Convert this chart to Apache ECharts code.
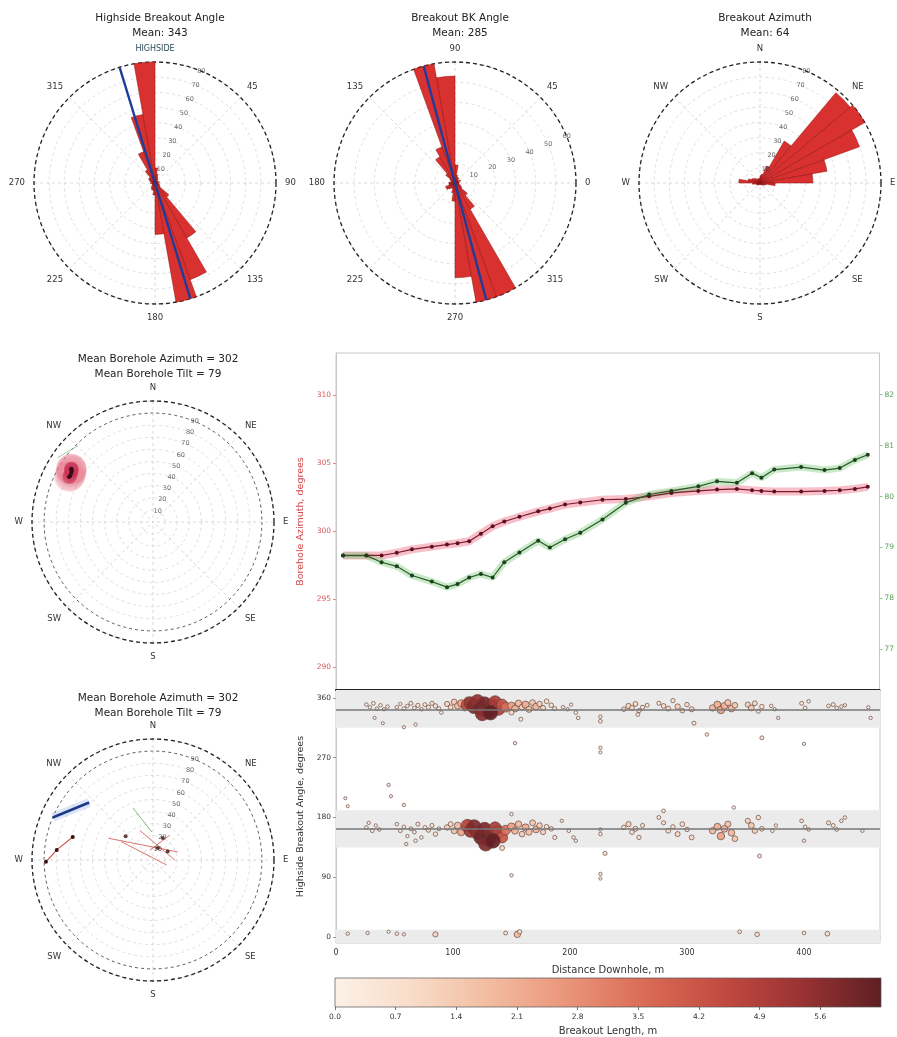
<!DOCTYPE html>
<html>
<head>
  <meta charset="UTF-8" />
  <title>Breakout analysis</title>
  <script src="https://cdn.jsdelivr.net/npm/echarts@6.0.0/dist/echarts.min.js"></script>
</head>
<body style="margin: 0; background: #fff">
  <div id="main" style="width: 897px; height: 1037px"></div>
  <script>
    // ---- rose histograms, 10 degree bins starting at 0 ----
    var binWidth = 10;
    var highsideCounts = [10, 6, 4, 3, 2, 2, 2, 3, 2, 2, 3, 3, 4, 12, 42, 68, 80, 34, 8, 5, 5, 4, 3, 2, 2, 2, 3, 2, 3, 4, 5, 5, 10, 22, 46, 80];
    var bkCounts = [2, 2, 3, 2, 2, 3, 3, 4, 9, 53, 60, 19, 15, 6, 3, 2, 2, 3, 3, 3, 5, 5, 4, 3, 3, 5, 9, 47, 60, 60, 15, 8, 4, 3, 2, 2];
    var azimuthCounts = [5, 6, 12, 32, 78, 80, 70, 45, 35, 10, 4, 3, 2, 2, 1, 1, 1, 1, 1, 1, 1, 1, 2, 2, 2, 3, 5, 14, 8, 6, 5, 4, 3, 3, 3, 3];
    var meanHighside = 343;
    var meanBk = 285;
    var highsideRings = [10, 20, 30, 40, 50, 60, 70, 80];
    var bkRings = [10, 20, 30, 40, 50, 60];
    var azimuthRings = [10, 20, 30, 40, 50, 60, 70, 80];
    var tiltRings = [10, 20, 30, 40, 50, 60, 70, 80, 90];
    var compassNames = ["N", "NE", "E", "SE", "S", "SW", "W", "NW"];

    // ---- borehole survey along hole ----
    var depthLog = [6, 26, 39, 52, 65, 82, 95, 104, 114, 124, 134, 144, 157, 173, 183, 196, 209, 228, 248, 268, 287, 310, 326, 343, 356, 364, 375, 398, 418, 431, 444, 455];
    var azLog = [298.2, 298.2, 298.2, 298.4, 298.65, 298.85, 299.0, 299.1, 299.25, 299.8, 300.35, 300.7, 301.05, 301.45, 301.65, 301.95, 302.1, 302.3, 302.35, 302.55, 302.8, 302.95, 303.05, 303.1, 303.0, 302.95, 302.9, 302.9, 302.95, 303.0, 303.1, 303.25];
    var tiltLog = [78.84, 78.84, 78.71, 78.63, 78.45, 78.33, 78.22, 78.28, 78.41, 78.48, 78.41, 78.71, 78.9, 79.13, 79.0, 79.16, 79.29, 79.55, 79.88, 80.04, 80.11, 80.2, 80.3, 80.27, 80.46, 80.37, 80.53, 80.58, 80.52, 80.56, 80.72, 80.82];
    var azTicks = [290, 295, 300, 305, 310];
    var tiltTicks = [77, 78, 79, 80, 81, 82];

    // ---- stereonet-like traces in the lower left plot [radius, azimuth] ----
    var blueTrace = [[90, 293], [71, 312]];
    var redTrace = [[88.5, 269], [80, 276], [69, 286]];
    var centreSegments = [
      [[41, 296], [21.5, 72]],
      [[26.8, 336], [18, 90]],
      [[8.5, 343], [24.8, 34]],
      [[30, 300], [12, 110]]
    ];
    var greenSegment = [[46, 339], [23, 358]];
    var centreDots = [[30, 311], [20, 24], [10.7, 22], [14, 60]];
    var upperGreenSegment = [[95, 304], [88.7, 315]];

    // ---- breakouts: [distance downhole m, highside angle deg, length m] ----
    var breakouts = [
      [26,350,0.3],[29,346,0.2],[32,352,0.4],[35,344,0.2],[38,349,0.3],[41,343,0.2],[44,347,0.3],[40,322,0.1],[33,330,0.1],
      [52,346,0.3],[55,351,0.2],[58,344,0.4],[61,348,0.3],[64,352,0.5],[67,345,0.4],[70,349,0.6],[73,343,0.3],[76,350,0.5],[79,346,0.7],[82,352,0.6],[85,348,0.8],[88,344,0.5],[58,316,0.1],[68,320,0.2],[90,338,0.3],
      [95,351,1.2],[98,346,0.9],[101,354,1.5],[104,348,1.8],[107,352,2.2],[110,345,1.6],[113,356,2.5],[116,349,3.0],
      [112,350,4.5],[115,352,5.2],[118,347,5.8],[121,355,5.5],[124,344,6.0],[127,351,5.9],[130,340,6.1],[133,348,5.7],[136,354,5.0],[139,343,4.8],[142,350,4.2],[145,346,3.5],[125,336,5.6],[132,338,6.2],
      [150,348,2.5],[153,344,2.0],[156,352,1.8],[159,346,1.4],[162,350,2.2],[165,343,1.7],[168,353,1.5],[171,347,2.0],[174,351,1.3],[177,345,1.1],[180,355,0.9],[184,349,0.8],[187,344,0.6],[150,338,1.0],[153,292,0.2],[158,328,0.5],
      [194,346,0.3],[198,343,0.3],[201,350,0.2],[205,338,0.4],[207,330,0.3],
      [226,332,0.2],[226,325,0.4],[226,285,0.2],[226,278,0.1],
      [246,343,0.8],[250,348,1.2],[253,345,0.9],[256,351,1.0],[259,341,0.7],[262,346,0.6],[266,349,0.5],[258,335,0.4],
      [276,352,0.6],[280,348,0.9],[284,344,1.0],[288,356,0.7],[292,347,1.3],[296,341,0.9],[300,350,0.8],[304,343,1.1],[306,322,0.5],
      [322,345,1.8],[326,350,2.1],[329,342,2.4],[332,348,2.0],[335,353,1.6],[338,344,1.9],[341,349,1.4],[317,305,0.3],
      [352,350,1.2],[355,345,1.5],[358,352,1.0],[361,340,0.6],[364,347,0.8],[364,300,0.5],
      [372,348,0.3],[375,343,0.2],[378,330,0.2],
      [398,352,0.5],[401,345,0.4],[404,355,0.3],[400,291,0.2],
      [421,348,0.4],[425,350,0.5],[428,345,0.3],[432,347,0.3],[435,349,0.2],
      [455,346,0.2],[457,330,0.2],
      [8,209,0.1],[10,197,0.1],
      [26,165,0.3],[28,172,0.2],[31,160,0.4],[34,168,0.2],[37,162,0.3],
      [45,229,0.2],[47,212,0.1],[58,199,0.2],
      [52,170,0.3],[55,160,0.4],[58,166,0.3],[61,152,0.2],[64,163,0.5],[67,158,0.4],[70,170,0.6],[73,150,0.3],[76,165,0.5],[79,161,0.7],[82,168,0.6],[85,155,0.8],[88,163,0.5],[60,140,0.2],[68,145,0.3],
      [95,165,1.3],[98,170,1.0],[101,160,1.6],[104,168,1.9],[107,158,2.3],[110,164,1.7],[113,171,2.6],[116,162,3.1],
      [112,168,4.6],[115,160,5.3],[118,166,5.8],[121,157,5.5],[124,150,6.0],[127,162,5.9],[130,147,6.1],[133,155,5.7],[136,164,5.0],[139,158,4.8],[142,150,4.2],[145,161,3.5],[128,140,5.8],[134,145,6.2],
      [150,166,2.5],[153,160,2.0],[156,170,1.8],[159,155,1.4],[162,165,2.2],[165,158,1.7],[168,172,1.5],[171,162,2.0],[174,168,1.3],[177,158,1.1],[180,166,0.9],[184,163,0.8],[187,150,0.6],[142,134,1.0],[150,185,0.3],
      [193,175,0.2],[199,160,0.3],[203,150,0.3],[205,145,0.2],
      [226,162,0.2],[226,155,0.3],[230,126,0.6],
      [246,165,0.8],[250,170,1.2],[253,158,0.9],[256,163,1.0],[259,150,0.7],[262,168,0.6],
      [276,180,0.5],[280,172,0.6],[284,160,0.9],[288,166,0.7],[292,155,1.1],[296,170,0.9],[300,162,0.8],[304,150,1.0],[280,190,0.4],
      [322,160,1.8],[326,166,2.1],[329,152,2.4],[332,163,2.0],[335,170,1.6],[338,157,1.9],[341,148,1.4],[340,195,0.3],
      [352,175,1.1],[355,168,1.5],[358,160,1.2],[361,180,0.8],[364,163,0.9],[362,122,0.5],
      [373,160,0.3],[376,168,0.2],
      [398,175,0.4],[401,166,0.3],[404,162,0.3],[400,145,0.2],
      [421,172,0.6],[425,168,0.5],[428,162,0.4],[432,175,0.3],[435,180,0.3],[450,160,0.2],
      [150,93,0.2],[226,95,0.2],[226,88,0.1],
      [10,5,0.2],[27,6,0.2],[45,8,0.1],[52,5,0.3],[58,4,0.2],[85,4,1.2],[145,6,0.5],[155,4,1.8],[157,8,0.7],[345,8,0.4],[360,4,0.8],[400,6,0.3],[420,5,0.9]
    ];
    var bandHalfWidth = 28;
    var depthTicks = [0, 100, 200, 300, 400];
    var angleTicks = [0, 90, 180, 270, 360];
    var cbarTicks = [0.0, 0.7, 1.4, 2.1, 2.8, 3.5, 4.2, 4.9, 5.6];
    var cbarMax = 6.3;
    var cmap = ["#fcf1e8", "#f8dcc8", "#f2bba0", "#e99479", "#d96a55", "#c1493f", "#983232", "#5e1f24"];

    var FONT = "DejaVu Sans";
    var dom = document.getElementById("main");
    var myChart = echarts.init(dom, null, { renderer: "canvas" });

    // wedge of a rose diagram, drawn through the polar scales
    function roseItem(params, api) {
      var a0 = api.value(0), a1 = api.value(1), v = api.value(2);
      var c = api.coord([0, a0]);
      var p0 = api.coord([v, a0]);
      var p1 = api.coord([v, a1]);
      var r = Math.hypot(p0[0] - c[0], p0[1] - c[1]);
      if (r < 0.5) return null;
      var s = Math.atan2(p0[1] - c[1], p0[0] - c[0]);
      var e = Math.atan2(p1[1] - c[1], p1[0] - c[0]);
      var d = e - s;
      while (d > Math.PI) d -= 2 * Math.PI;
      while (d < -Math.PI) d += 2 * Math.PI;
      return {
        type: "sector",
        shape: { cx: c[0], cy: c[1], r0: 0, r: r, startAngle: s, endAngle: s + d, clockwise: d > 0 },
        style: { fill: "rgba(214,32,30,0.92)", stroke: "#8a1512", lineWidth: 0.5 }
      };
    }

    function roseSeries(polarIndex, counts) {
      return {
        type: "custom",
        coordinateSystem: "polar",
        polarIndex: polarIndex,
        data: counts.map(function (c, i) { return [i * binWidth, (i + 1) * binWidth, c]; }),
        renderItem: roseItem,
        silent: true,
        z: 3
      };
    }

    function ringLabelSeries(polarIndex, rings) {
      return {
        type: "scatter",
        coordinateSystem: "polar",
        polarIndex: polarIndex,
        symbolSize: 1,
        itemStyle: { color: "rgba(0,0,0,0)" },
        label: {
          show: true, position: "inside", fontSize: 6.5, color: "#444", fontFamily: FONT,
          formatter: function (p) { return p.value[0]; }
        },
        data: rings.map(function (v) { return [v, 22.5]; }),
        silent: true,
        z: 6
      };
    }

    function meanLine(polarIndex, rmax, ang) {
      return {
        type: "line",
        coordinateSystem: "polar",
        polarIndex: polarIndex,
        symbol: "none",
        lineStyle: { color: "#1f3c9a", width: 2.4 },
        data: [[rmax, ang], [0, ang], [rmax, (ang + 180) % 360]],
        silent: true,
        z: 5
      };
    }

    var polarCentres = [[155, 183], [455, 183], [760, 183], [153, 522], [153, 860]];
    var polars = polarCentres.map(function (c) { return { center: c, radius: 121 }; });

    function angleAxis(idx, startAngle, clockwise, labelFn) {
      return {
        polarIndex: idx, type: "value", min: 0, max: 360, interval: 45,
        startAngle: startAngle, clockwise: clockwise,
        axisLine: { lineStyle: { color: "#222", width: 1.3, type: [4, 3] } },
        axisTick: { show: false },
        splitLine: { show: true, lineStyle: { color: "#cfcfcf", width: 0.8, type: [3, 3] } },
        axisLabel: {
          fontSize: 8.5, color: "#333", fontFamily: FONT, margin: 9,
          formatter: labelFn,
          rich: { hs: { fontSize: 8, color: "#2b4a5a", fontFamily: FONT } }
        }
      };
    }

    function radiusAxis(idx, max, ringColors) {
      return {
        polarIndex: idx, type: "value", min: 0, max: max, interval: 10,
        axisLine: { show: false }, axisTick: { show: false }, axisLabel: { show: false },
        splitLine: { show: true, lineStyle: { color: ringColors || "#d6d6d6", width: 0.8, type: [3, 3] } }
      };
    }

    function compassLabel(v) { return v >= 360 ? "" : compassNames[Math.round(v / 45)]; }
    var tiltRingColors = ["#d6d6d6", "#d6d6d6", "#d6d6d6", "#d6d6d6", "#d6d6d6", "#d6d6d6", "#d6d6d6", "#d6d6d6", "#d6d6d6", "#333", "#d6d6d6"];

    var series = [];
    // polar 0: highside breakout angle
    series.push(roseSeries(0, highsideCounts));
    series.push(meanLine(0, 80, meanHighside));
    series.push(ringLabelSeries(0, highsideRings));
    // polar 1: BK angle
    series.push(roseSeries(1, bkCounts));
    series.push(meanLine(1, 60, meanBk));
    series.push(ringLabelSeries(1, bkRings));
    // polar 2: breakout azimuth
    series.push(roseSeries(2, azimuthCounts));
    series.push(ringLabelSeries(2, azimuthRings));
    // polar 3: borehole orientation
    var orientData = depthLog.map(function (d, i) { return [tiltLog[i], azLog[i]]; });
    series.push({
      type: "scatter", coordinateSystem: "polar", polarIndex: 3, symbolSize: 30,
      itemStyle: { color: "rgba(236,120,150,0.07)" },
      data: orientData, silent: true, z: 2
    });
    series.push({
      type: "scatter", coordinateSystem: "polar", polarIndex: 3, symbolSize: 14,
      itemStyle: { color: "rgba(200,50,90,0.14)" },
      data: orientData, silent: true, z: 3
    });
    series.push({
      type: "line", coordinateSystem: "polar", polarIndex: 3, symbol: "none",
      lineStyle: { color: "rgba(110,190,110,0.7)", width: 1 }, data: upperGreenSegment, silent: true
    });
    series.push({
      type: "scatter", coordinateSystem: "polar", polarIndex: 3, symbolSize: 3.5,
      itemStyle: { color: "#3a0b18" },
      data: orientData, silent: true, z: 4
    });
    series.push(ringLabelSeries(3, tiltRings));
    // polar 4: traces
    series.push({
      type: "line", coordinateSystem: "polar", polarIndex: 4, symbol: "none",
      lineStyle: { color: "rgba(120,150,230,0.25)", width: 9 }, data: blueTrace, silent: true
    });
    series.push({
      type: "line", coordinateSystem: "polar", polarIndex: 4, symbol: "none",
      lineStyle: { color: "#1d3a8a", width: 2.6 }, data: blueTrace, silent: true, z: 4
    });
    series.push({
      type: "line", coordinateSystem: "polar", polarIndex: 4, symbol: "circle", symbolSize: 4,
      itemStyle: { color: "#3a1010" },
      lineStyle: { color: "#c9504a", width: 1.1 }, data: redTrace, silent: true, z: 4
    });
    centreSegments.forEach(function (seg) {
      series.push({
        type: "line", coordinateSystem: "polar", polarIndex: 4, symbol: "none",
        lineStyle: { color: "rgba(205,70,60,0.75)", width: 1 }, data: seg, silent: true
      });
    });
    series.push({
      type: "line", coordinateSystem: "polar", polarIndex: 4, symbol: "none",
      lineStyle: { color: "rgba(90,170,90,0.8)", width: 1 }, data: greenSegment, silent: true
    });
    series.push({
      type: "scatter", coordinateSystem: "polar", polarIndex: 4, symbolSize: 4,
      itemStyle: { color: "#3a1010" }, data: centreDots, silent: true, z: 5
    });
    series.push(ringLabelSeries(4, tiltRings));

    // line chart: azimuth (left) and tilt (right)
    var azData = depthLog.map(function (d, i) { return [d, azLog[i]]; });
    var tiltData = depthLog.map(function (d, i) { return [d, tiltLog[i]]; });
    series.push({ type: "line", xAxisIndex: 0, yAxisIndex: 0, data: azData, symbol: "none",
      lineStyle: { color: "rgba(240,110,135,0.45)", width: 8 }, silent: true });
    series.push({ type: "line", xAxisIndex: 0, yAxisIndex: 0, data: azData, symbol: "circle", symbolSize: 4,
      itemStyle: { color: "#5a1020" }, lineStyle: { color: "#7a1a2a", width: 1.2 }, silent: true, z: 4 });
    series.push({ type: "line", xAxisIndex: 0, yAxisIndex: 1, data: tiltData, symbol: "none",
      lineStyle: { color: "rgba(120,200,120,0.4)", width: 7 }, silent: true });
    series.push({ type: "line", xAxisIndex: 0, yAxisIndex: 1, data: tiltData, symbol: "circle", symbolSize: 4,
      itemStyle: { color: "#1c3f1c" }, lineStyle: { color: "#2a5a2a", width: 1.2 }, silent: true, z: 4 });

    // breakout scatter
    var scatterIndex = series.length;
    var wrapTop = meanHighside + bandHalfWidth - 360;
    series.push({
      type: "scatter", xAxisIndex: 1, yAxisIndex: 2, data: breakouts,
      itemStyle: { borderColor: "#5b3d34", borderWidth: 0.7, opacity: 0.92 },
      silent: true, z: 4,
      markArea: {
        silent: true,
        itemStyle: { color: "#ebebeb" },
        data: [
          [{ yAxis: meanHighside - bandHalfWidth }, { yAxis: 372 }],
          [{ yAxis: meanHighside - 180 - bandHalfWidth }, { yAxis: meanHighside - 180 + bandHalfWidth }],
          [{ yAxis: -9 }, { yAxis: wrapTop }]
        ]
      },
      markLine: {
        silent: true, symbol: "none", label: { show: false },
        lineStyle: { color: "#777", width: 1.5, type: "solid" },
        data: [{ yAxis: meanHighside }, { yAxis: meanHighside - 180 }]
      }
    });

    // colour bar
    series.push({
      type: "custom", xAxisIndex: 2, yAxisIndex: 3, data: [[0, 0]], silent: true,
      renderItem: function (params, api) {
        var p0 = api.coord([0, 0]);
        var p1 = api.coord([cbarMax, 1]);
        return {
          type: "rect",
          shape: { x: p0[0], y: p1[1], width: p1[0] - p0[0], height: p0[1] - p1[1] },
          style: {
            fill: new echarts.graphic.LinearGradient(0, 0, 1, 0, cmap.map(function (c, i) {
              return { offset: i / (cmap.length - 1), color: c };
            })),
            stroke: "#555", lineWidth: 0.7
          }
        };
      }
    });

    var titleStyle = { fontSize: 10.5, fontWeight: "normal", color: "#222", fontFamily: FONT, lineHeight: 15 };
    var option = {
      backgroundColor: "#fff",
      animation: false,
      textStyle: { fontFamily: FONT },
      title: [
        { text: "Highside Breakout Angle\nMean: " + meanHighside, left: 155, top: 6, textAlign: "center", textStyle: titleStyle },
        { text: "Breakout BK Angle\nMean: " + meanBk, left: 455, top: 6, textAlign: "center", textStyle: titleStyle },
        { text: "Breakout Azimuth\nMean: 64", left: 760, top: 6, textAlign: "center", textStyle: titleStyle },
        { text: "Mean Borehole Azimuth = 302\nMean Borehole Tilt = 79", left: 153, top: 347, textAlign: "center", textStyle: titleStyle },
        { text: "Mean Borehole Azimuth = 302\nMean Borehole Tilt = 79", left: 153, top: 686, textAlign: "center", textStyle: titleStyle }
      ],
      polar: polars,
      angleAxis: [
        angleAxis(0, 90, true, function (v) { return v === 0 ? "{hs|HIGHSIDE}" : v >= 360 ? "" : String(v); }),
        angleAxis(1, 0, false, function (v) { return v >= 360 ? "" : String(v); }),
        angleAxis(2, 90, true, compassLabel),
        angleAxis(3, 90, true, compassLabel),
        angleAxis(4, 90, true, compassLabel)
      ],
      radiusAxis: [
        radiusAxis(0, 80),
        radiusAxis(1, 60),
        radiusAxis(2, 80),
        radiusAxis(3, 100, tiltRingColors),
        radiusAxis(4, 100, tiltRingColors)
      ],
      grid: [
        { left: 336, width: 544, top: 353, height: 337, show: true, borderColor: "#c8c8c8", borderWidth: 1 },
        { left: 336, width: 544, top: 690, height: 253, show: true, borderColor: "#c8c8c8", borderWidth: 1 },
        { left: 335, width: 546, top: 978, height: 29 }
      ],
      xAxis: [
        { gridIndex: 0, type: "value", min: 0, max: 465,
          axisLabel: { show: false }, axisTick: { show: false }, splitLine: { show: false },
          axisLine: { lineStyle: { color: "#222", width: 2 } } },
        { gridIndex: 1, type: "value", min: 0, max: 465,
          axisLabel: { customValues: depthTicks, fontSize: 8, color: "#333", margin: 6 },
          axisTick: { customValues: depthTicks, length: 3, lineStyle: { color: "#999" } },
          splitLine: { show: false },
          axisLine: { lineStyle: { color: "#bbb" } },
          name: "Distance Downhole, m", nameLocation: "middle", nameGap: 22,
          nameTextStyle: { fontSize: 10, color: "#333" } },
        { gridIndex: 2, type: "value", min: 0, max: cbarMax,
          axisLabel: { customValues: cbarTicks, fontSize: 7.5, color: "#333", margin: 6,
            formatter: function (v) { return v.toFixed(1); } },
          axisTick: { customValues: cbarTicks, length: 3, lineStyle: { color: "#777" } },
          splitLine: { show: false }, axisLine: { show: false },
          name: "Breakout Length, m", nameLocation: "middle", nameGap: 19,
          nameTextStyle: { fontSize: 10, color: "#333" } }
      ],
      yAxis: [
        { gridIndex: 0, type: "value", min: 288.3, max: 313.1, position: "left",
          axisLabel: { customValues: azTicks, fontSize: 7.5, color: "#d65a5a", margin: 5 },
          axisTick: { customValues: azTicks, length: 3, lineStyle: { color: "#d88" } },
          axisLine: { show: true, lineStyle: { color: "#c8c8c8" } },
          splitLine: { show: false },
          name: "Borehole Azimuth, degrees", nameLocation: "middle", nameGap: 28,
          nameTextStyle: { fontSize: 9.5, color: "#d04848" } },
        { gridIndex: 0, type: "value", min: 76.2, max: 82.82, position: "right",
          axisLabel: { customValues: tiltTicks, fontSize: 7.5, color: "#5aa05a", margin: 5 },
          axisTick: { customValues: tiltTicks, length: 3, lineStyle: { color: "#8c8" } },
          axisLine: { show: true, lineStyle: { color: "#c8c8c8" } },
          splitLine: { show: false } },
        { gridIndex: 1, type: "value", min: -9, max: 372,
          axisLabel: { customValues: angleTicks, fontSize: 7.5, color: "#333", margin: 5 },
          axisTick: { customValues: angleTicks, length: 3, lineStyle: { color: "#999" } },
          axisLine: { show: true, lineStyle: { color: "#c8c8c8" } },
          splitLine: { show: false },
          name: "Highside Breakout Angle, degrees", nameLocation: "middle", nameGap: 27,
          nameTextStyle: { fontSize: 9.5, color: "#333" } },
        { gridIndex: 2, type: "value", min: 0, max: 1, show: false }
      ],
      visualMap: [{
        type: "continuous", show: false, min: 0, max: cbarMax, dimension: 2,
        seriesIndex: scatterIndex,
        inRange: { color: cmap, symbolSize: [3, 15] }
      }],
      series: series
    };

    myChart.setOption(option);
    window.addEventListener("resize", myChart.resize);
  </script>
</body>
</html>
